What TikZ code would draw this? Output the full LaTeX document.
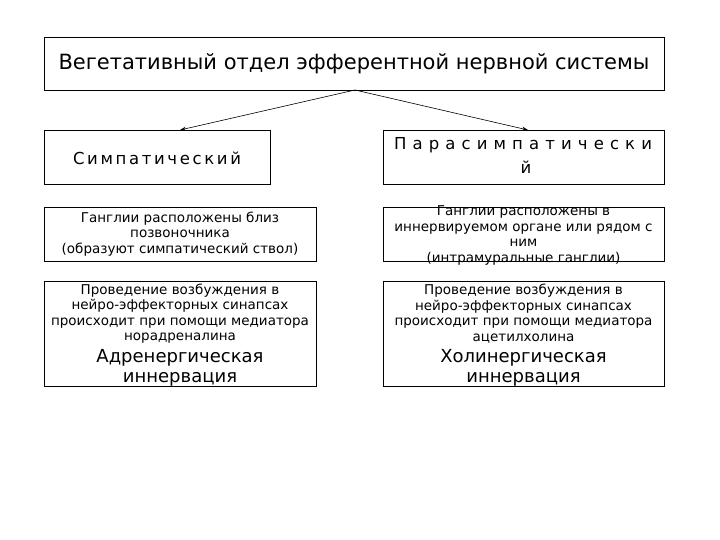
\documentclass[tikz,border=0pt]{standalone}
\usepackage{fontspec}
\setmainfont{DejaVu Sans}
\usetikzlibrary{arrows.meta}
\newcommand{\spreadtext}[2]{\makebox[#1][s]{\spaceskip=1pt plus 1fil\relax #2}}
\begin{document}
\begin{tikzpicture}[x=1pt,y=-1pt,
  boxst/.style={draw=black,line width=0.7pt,inner sep=0pt,anchor=north west},
  txt/.style={inner sep=0pt,align=center,text=black},
  small/.style={txt,font=\fontsize{13.5}{15.5}\selectfont},
  big/.style={txt,font=\fontsize{18}{20}\selectfont},
  sp/.style={txt,font=\fontsize{16.5}{21}\selectfont},
  arr/.style={-{Stealth[length=6pt,width=4pt]},line width=0.6pt}]
\useasboundingbox (0,0) rectangle (720,540);
\fill[white] (0,0) rectangle (720,540);
% boxes
\node[boxst,minimum width=620pt,minimum height=53pt] (top) at (44,37) {};
\node[boxst,minimum width=226pt,minimum height=54pt] (symp) at (44,130) {};
\node[boxst,minimum width=281pt,minimum height=54pt] (para) at (383,130) {};
\node[boxst,minimum width=272pt,minimum height=54pt] (gl) at (44,207) {};
\node[boxst,minimum width=281pt,minimum height=54pt] (gr) at (383,207) {};
\node[boxst,minimum width=272pt,minimum height=105pt] (bl) at (44,281) {};
\node[boxst,minimum width=281pt,minimum height=105pt] (br) at (383,281) {};
% texts
\node[txt,font=\fontsize{21}{25}\selectfont] (ttop) at (354,64) {Вегетативный отдел эфферентной нервной системы};
\node[sp] (tsymp) at (157,158) {\spreadtext{168pt}{С и м п а т и ч е с к и й}};
\node[sp] (tpara1) at (523,145) {\spreadtext{258pt}{П а р а с и м п а т и ч е с к и}};
\node[sp] (tpara2) at (526,167) {й};
\node[small] (tgl) at (180,234) {Ганглии расположены близ\\позвоночника\\(образуют симпатический ствол)};
\node[small] (tgr) at (523.5,235.5) {Ганглии расположены в\\иннервируемом органе или рядом с\\ним\\(интрамуральные ганглии)};
\node[small] (tbl) at (180,313.5) {Проведение возбуждения в\\нейро-эффекторных синапсах\\происходит при помощи медиатора\\норадреналина};
\node[big] (tbl2) at (180,368) {Адренергическая\\иннервация};
\node[small] (tbr) at (523.5,313.5) {Проведение возбуждения в\\нейро-эффекторных синапсах\\происходит при помощи медиатора\\ацетилхолина};
\node[big] (tbr2) at (523.5,368) {Холинергическая\\иннервация};
% arrows
\coordinate (src) at (355,90);
\coordinate (tl) at (180,130);
\coordinate (tr) at (528,130);
\draw[arr] (src) -- (tl);
\draw[arr] (src) -- (tr);
\end{tikzpicture}
\end{document}
